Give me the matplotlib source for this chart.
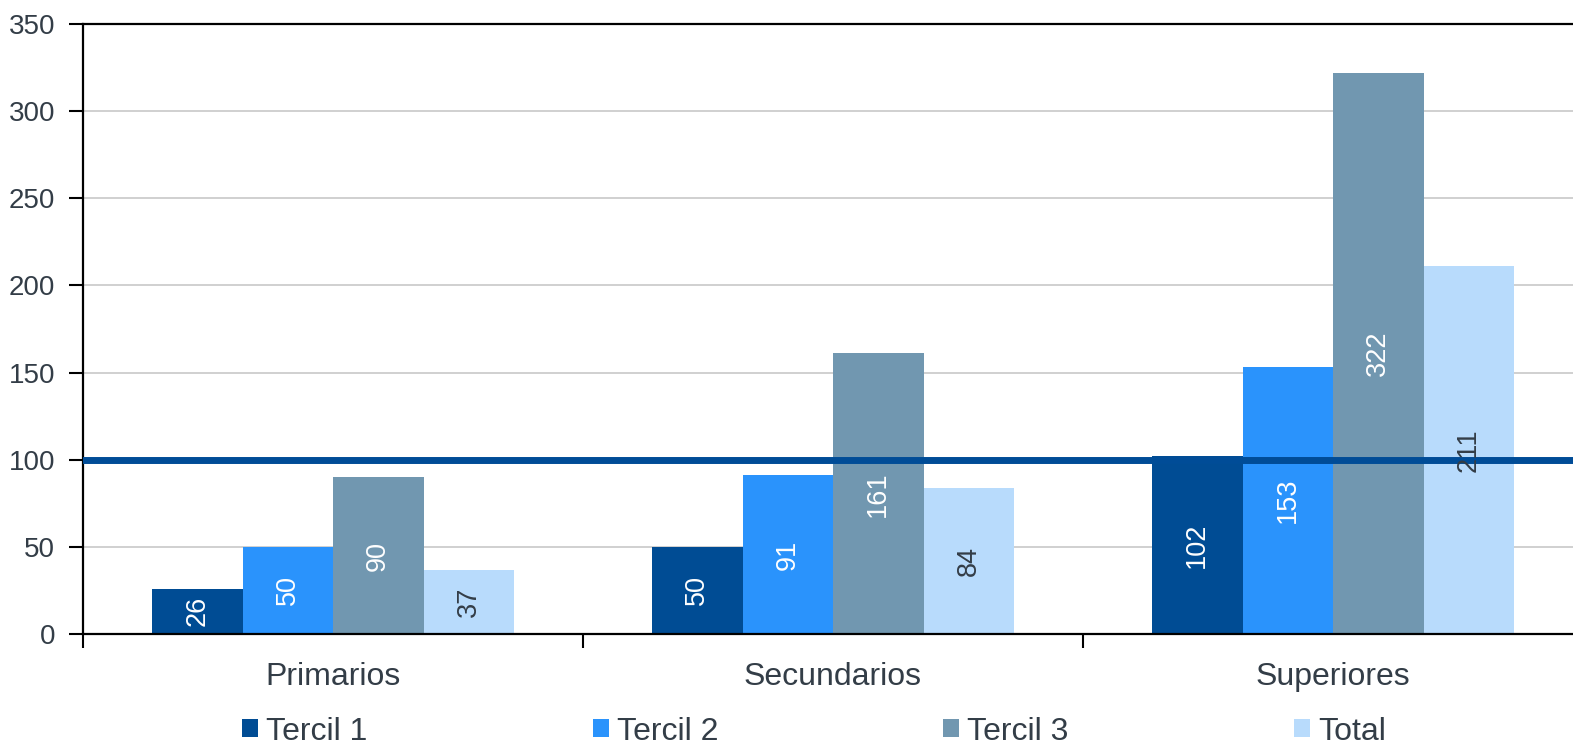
import matplotlib
matplotlib.use("Agg")
import matplotlib.pyplot as plt
import numpy as np

categories = ["Primarios", "Secundarios", "Superiores"]
series_names = ["Tercil 1", "Tercil 2", "Tercil 3", "Total"]
tercil1 = [26, 50, 102]
tercil2 = [50, 91, 153]
tercil3 = [90, 161, 322]
total = [37, 84, 211]
reference_value = 100
yticks = [0, 50, 100, 150, 200, 250, 300, 350]

colors = ["#004C94", "#2A93FC", "#7197B0", "#B8DBFC"]
label_colors = ["white", "white", "white", "#333d47"]
text_color = "#333d47"

plt.rcParams['font.family'] = ['Liberation Sans', 'DejaVu Sans']

fig = plt.figure(figsize=(15.73, 7.48), dpi=100)
ax = fig.add_axes([83/1573, 114/748, 1500/1573, 610/748])

x = np.arange(len(categories))
width = 0.181
series = [tercil1, tercil2, tercil3, total]
for i, (vals, name) in enumerate(zip(series, series_names)):
    bars = ax.bar(x + (i - 1.5) * width, vals, width, color=colors[i],
                  label=name, zorder=2, linewidth=0)
    ax.bar_label(bars, labels=[str(v) for v in vals], label_type='center',
                 rotation=90, color=label_colors[i], fontsize=19.5, zorder=4)

ax.axhline(reference_value, color="#004C97", linewidth=5, zorder=3)

ax.set_xlim(-0.5, len(categories) - 0.5)
ax.set_ylim(0, 350)
ax.set_yticks(yticks)
ax.set_yticklabels([str(t) for t in yticks])
ax.yaxis.grid(True, color="#c8c8c8", linewidth=1.2, zorder=0)
ax.set_axisbelow(True)

ax.set_xticks(np.arange(len(categories) + 1) - 0.5)
ax.set_xticklabels([])
ax.set_xticks(x, minor=True)
ax.set_xticklabels(categories, minor=True)
ax.tick_params(axis='x', which='minor', length=0, pad=20, labelsize=23,
               labelcolor=text_color)
ax.tick_params(axis='x', which='major', length=10, width=1.5, direction='out')
ax.tick_params(axis='y', length=10, width=1.5, direction='out', pad=10,
               labelsize=20, labelcolor=text_color)

for s in ['left', 'bottom', 'top']:
    ax.spines[s].set_linewidth(1.6)
    ax.spines[s].set_color('black')
ax.spines['right'].set_visible(False)

leg = fig.legend(loc='center', bbox_to_anchor=(0.5175, 0.022), ncol=4,
                 frameon=False, fontsize=23, handlelength=0.5, handleheight=0.5,
                 handletextpad=0.25, columnspacing=7.05, labelcolor=text_color,
                 borderaxespad=0)

fig.savefig("out.png", dpi=100)
